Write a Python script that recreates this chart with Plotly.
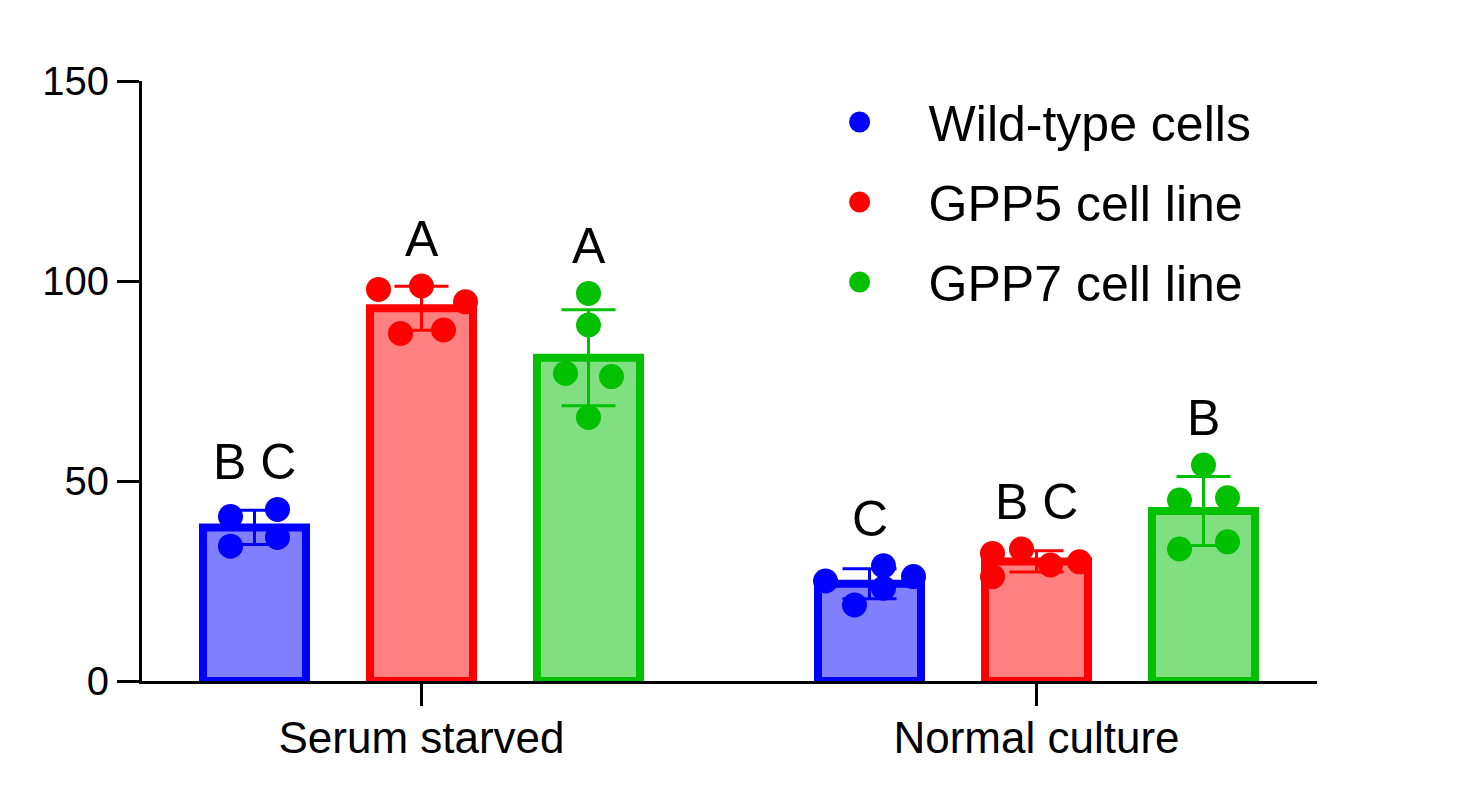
import plotly.graph_objects as go

# ---------------- data ----------------
conditions = ["Serum starved", "Normal culture"]
series_names = ["Wild-type cells", "GPP5 cell line", "GPP7 cell line"]

# bar means (per condition)
wt_mean = [38.4, 24.3]
gpp5_mean = [93.2, 29.9]
gpp7_mean = [80.8, 42.5]

# standard deviations
wt_sd = [4.3, 3.75]
gpp5_sd = [5.5, 2.65]
gpp7_sd = [12.0, 8.6]

# individual replicate points
wt_points = [[41.1, 42.9, 33.7, 35.9], [25.0, 28.8, 26.1, 23.2, 19.0]]
gpp5_points = [[97.9, 98.75, 94.8, 86.9, 87.75], [31.9, 33.0, 29.8, 29.0, 26.1]]
gpp7_points = [[96.9, 89.0, 76.9, 76.1, 65.9], [54.0, 45.25, 45.8, 33.0, 34.8]]

# significance letters
wt_letters = ["B C", "C"]
gpp5_letters = ["A", "B C"]
gpp7_letters = ["A", "B"]

# ---------------- styles ----------------
line_colors = ["#0000FF", "#FF0000", "#00C000"]
fill_colors = ["#8080FF", "#FF8080", "#80DF80"]

# horizontal jitter of replicate points, in pixels
jitter_px = {
    (0, 0): [-24, 23, -24, 23],
    (0, 1): [-44, 14, 44, 14, -15],
    (1, 0): [-43, 0, 44, -21, 22],
    (1, 1): [-44, -15, 43, 14, -44],
    (2, 0): [0, 0, -23, 23, 0],
    (2, 1): [0, -24, 24, -24, 24],
}

PX_PER_UNIT = 615.0          # pixels between the two condition centres
BAR_OFFSET = 167.0 / PX_PER_UNIT
BAR_WIDTH = 103.0 / PX_PER_UNIT
FONT = "Arial, Liberation Sans, sans-serif"

means = [wt_mean, gpp5_mean, gpp7_mean]
sds = [wt_sd, gpp5_sd, gpp7_sd]
points = [wt_points, gpp5_points, gpp7_points]
letters = [wt_letters, gpp5_letters, gpp7_letters]

fig = go.Figure()

# bars with error bars
for s in range(3):
    xs = [c + (s - 1) * BAR_OFFSET for c in range(len(conditions))]
    fig.add_trace(go.Bar(
        x=xs, y=means[s], width=BAR_WIDTH,
        marker=dict(color=fill_colors[s], line=dict(color=line_colors[s], width=8)),
        error_y=dict(type="data", array=sds[s], visible=True,
                     color=line_colors[s], thickness=3, width=27),
        showlegend=False, hoverinfo="skip",
    ))

# replicate points
for s in range(3):
    px_list, py_list = [], []
    for c in range(len(conditions)):
        centre = c + (s - 1) * BAR_OFFSET
        for v, j in zip(points[s][c], jitter_px[(s, c)]):
            px_list.append(centre + j / PX_PER_UNIT)
            py_list.append(v)
    fig.add_trace(go.Scatter(
        x=px_list, y=py_list, mode="markers", name=series_names[s],
        legendgroup=series_names[s],
        marker=dict(color=line_colors[s], size=20,
                    line=dict(color=line_colors[s], width=5)),
        cliponaxis=False,
    ))

# letters above bars
for s in range(3):
    for c in range(len(conditions)):
        fig.add_annotation(
            x=c + (s - 1) * BAR_OFFSET, y=max(points[s][c]),
            xref="x", yref="y", text=letters[s][c], showarrow=False,
            yanchor="middle", yshift=47,
            font=dict(family=FONT, size=50, color="black"),
        )

fig.update_layout(
    width=1459, height=798,
    margin=dict(l=134, r=150, t=73, b=125),
    paper_bgcolor="white", plot_bgcolor="white",
    barmode="overlay",
    font=dict(family=FONT, color="black"),
    legend=dict(
        x=0.552, y=0.9967, xanchor="left", yanchor="top",
        font=dict(family=FONT, size=50, color="black"),
        tracegroupgap=12, traceorder="grouped",
        bgcolor="rgba(0,0,0,0)", itemwidth=128,
    ),
    showlegend=True,
)

fig.update_xaxes(
    range=[-279.5 / PX_PER_UNIT, (1175 - 279.5) / PX_PER_UNIT],
    tickvals=list(range(len(conditions))), ticktext=conditions,
    showline=True, linecolor="black", linewidth=3,
    ticks="outside", ticklen=22, tickwidth=3, tickcolor="black",
    showgrid=False, zeroline=False, ticklabelstandoff=-6,
    tickfont=dict(family=FONT, size=44, color="black"),
)
fig.update_yaxes(
    range=[0, 150], tickvals=[0, 50, 100, 150],
    showline=True, linecolor="black", linewidth=3,
    ticks="outside", ticklen=22, tickwidth=3, tickcolor="black",
    showgrid=False, zeroline=False,
    tickfont=dict(family=FONT, size=40, color="black"),
)

fig.write_html("out.html")
